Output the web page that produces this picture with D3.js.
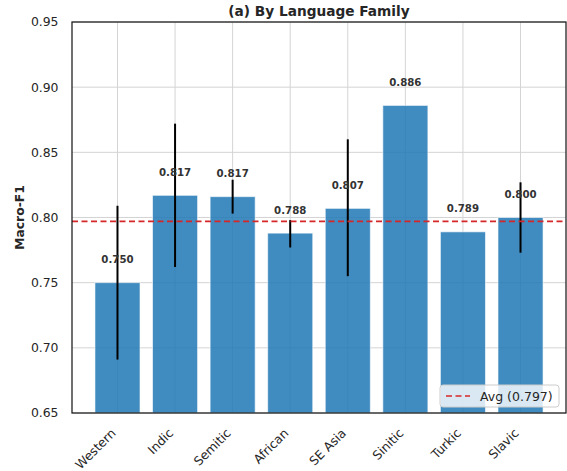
<!DOCTYPE html>
<html>
<head>
<meta charset="utf-8">
<script src="https://cdn.jsdelivr.net/npm/d3@7"></script>
<style>
body { margin: 0; background: #fff; }
svg { font-family: "DejaVu Sans", sans-serif; }
</style>
</head>
<body>
<svg id="chart" width="567" height="471"></svg>
<script>
const categories = ["Western", "Indic", "Semitic", "African", "SE Asia", "Sinitic", "Turkic", "Slavic"];
const values = [0.750, 0.817, 0.816, 0.788, 0.807, 0.886, 0.789, 0.800];
const valueLabels = ["0.750", "0.817", "0.817", "0.788", "0.807", "0.886", "0.789", "0.800"];
const errLow = [0.691, 0.762, 0.803, 0.777, 0.755, null, null, 0.773];
const errHigh = [0.809, 0.872, 0.829, 0.798, 0.860, null, null, 0.827];
const average = 0.797;
const yTicks = [0.65, 0.70, 0.75, 0.80, 0.85, 0.90, 0.95];

const svg = d3.select("#chart");
const pL = 72, pR = 566, pT = 22, pB = 413;

const x = d3.scaleLinear().domain([-0.79, 7.79]).range([pL, pR]);
const y = d3.scaleLinear().domain([0.65, 0.95]).range([pB, pT]);

// grid
const g = svg.append("g");
g.selectAll(".hg").data(yTicks).enter().append("line")
  .attr("x1", pL).attr("x2", pR)
  .attr("y1", d => y(d)).attr("y2", d => y(d))
  .attr("stroke", "#d4d4d4").attr("stroke-width", 1);
g.selectAll(".vg").data(categories).enter().append("line")
  .attr("x1", (d, i) => x(i)).attr("x2", (d, i) => x(i))
  .attr("y1", pT).attr("y2", pB)
  .attr("stroke", "#d4d4d4").attr("stroke-width", 1);

// bars
const bw = x(0.8) - x(0);
svg.append("g").selectAll("rect").data(values).enter().append("rect")
  .attr("x", (d, i) => x(i) - bw / 2 + 0.5)
  .attr("width", bw - 1)
  .attr("y", d => y(d))
  .attr("height", d => pB - y(d))
  .attr("fill", "#1f77b4").attr("fill-opacity", 0.85)
  .attr("stroke", "#ffffff").attr("stroke-opacity", 0.6).attr("stroke-width", 1);

// error bars
svg.append("g").selectAll("line").data(categories.map((c, i) => i).filter(i => errLow[i] !== null)).enter().append("line")
  .attr("x1", i => x(i)).attr("x2", i => x(i))
  .attr("y1", i => y(errLow[i])).attr("y2", i => y(errHigh[i]))
  .attr("stroke", "#000").attr("stroke-width", 2);

// value labels
svg.append("g").selectAll("text").data(values).enter().append("text")
  .attr("x", (d, i) => x(i))
  .attr("y", d => y(d + 0.015))
  .attr("text-anchor", "middle")
  .attr("font-size", "10.2px").attr("font-weight", "bold").attr("fill", "#333")
  .text((d, i) => valueLabels[i]);

// avg line
svg.append("line")
  .attr("x1", pL).attr("x2", pR)
  .attr("y1", y(average)).attr("y2", y(average))
  .attr("stroke", "#d62728").attr("stroke-width", 1.6).attr("stroke-dasharray", "6,3.5");

// spines
svg.append("rect").attr("x", pL).attr("y", pT).attr("width", pR - pL).attr("height", pB - pT)
  .attr("fill", "none").attr("stroke", "#1a1a1a").attr("stroke-width", 1.25);

// y axis labels
svg.append("g").selectAll("text").data(yTicks).enter().append("text")
  .attr("x", pL - 13.5).attr("y", d => y(d)).attr("dy", "0.36em")
  .attr("text-anchor", "end").attr("font-size", "12.4px").attr("fill", "#262626")
  .text(d => d.toFixed(2));

// x axis labels
svg.append("g").selectAll("text").data(categories).enter().append("text")
  .attr("transform", (d, i) => `translate(${x(i) - 1},${pB + 21}) rotate(-45)`)
  .attr("text-anchor", "end").attr("font-size", "12.4px").attr("fill", "#262626")
  .text(d => d);

// title
svg.append("text").attr("x", (pL + pR) / 2).attr("y", 16)
  .attr("text-anchor", "middle").attr("font-size", "13.7px").attr("font-weight", "bold").attr("fill", "#262626")
  .text("(a) By Language Family");

// y label
svg.append("text").attr("transform", `translate(24,${(pT + pB) / 2}) rotate(-90)`)
  .attr("text-anchor", "middle").attr("font-size", "12.3px").attr("font-weight", "bold").attr("fill", "#262626")
  .text("Macro-F1");

// legend
const lg = svg.append("g");
lg.append("rect").attr("x", 440).attr("y", 385).attr("width", 119).attr("height", 22).attr("rx", 3)
  .attr("fill", "#fff").attr("fill-opacity", 0.8).attr("stroke", "#cccccc").attr("stroke-width", 1);
lg.append("line").attr("x1", 446).attr("x2", 470).attr("y1", 396).attr("y2", 396)
  .attr("stroke", "#d62728").attr("stroke-width", 1.6).attr("stroke-dasharray", "6,3.5");
lg.append("text").attr("x", 480).attr("y", 396).attr("dy", "0.36em")
  .attr("font-size", "12.5px").attr("fill", "#262626").text(`Avg (${average.toFixed(3)})`);
</script>
</body>
</html>
